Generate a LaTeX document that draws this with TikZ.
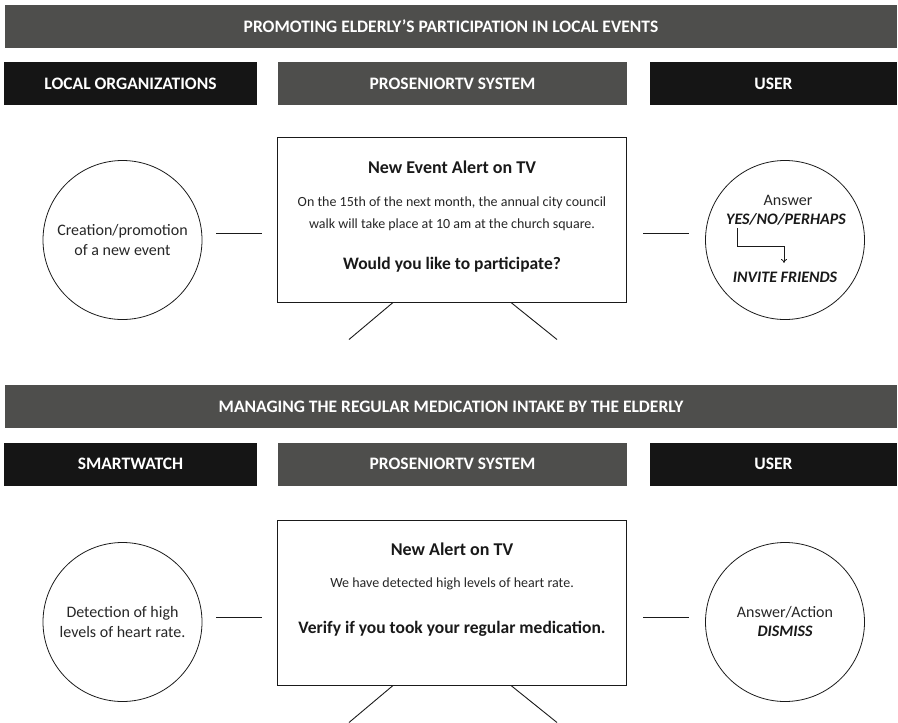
\documentclass[tikz,border=0pt]{standalone}
\usepackage{fontspec}
\setmainfont{Carlito}
\usetikzlibrary{arrows.meta}
\definecolor{bannergray}{HTML}{4E4E4C}
\definecolor{darkbox}{HTML}{151515}
\definecolor{linegray}{HTML}{1A1A1A}
\begin{document}
\begin{tikzpicture}[x=1pt,y=-1pt,
  banner/.style={fill=bannergray, text=white, font=\bfseries\fontsize{17.5}{20}\selectfont, minimum width=892pt, minimum height=43pt, inner sep=0pt},
  hdark/.style={fill=darkbox, text=white, font=\bfseries\fontsize{17.5}{20}\selectfont, minimum height=43pt, inner sep=0pt},
  hmid/.style={fill=bannergray, text=white, font=\bfseries\fontsize{17.5}{20}\selectfont, minimum height=43pt, inner sep=0pt},
  tvbox/.style={draw=linegray, line width=1pt, minimum width=349pt, minimum height=165pt, inner sep=0pt},
  tvtitle/.style={font=\bfseries\fontsize{18}{21}\selectfont, text=black!90, inner sep=0pt},
  tvbody/.style={font=\fontsize{14}{22}\selectfont, text=black!85, align=center, inner sep=0pt},
  tvbold/.style={font=\bfseries\fontsize{17.5}{21}\selectfont, text=black!90, inner sep=0pt},
  circ/.style={draw=linegray, line width=0.8pt, circle, minimum size=159pt, inner sep=0pt, align=center, font=\fontsize{16}{19.5}\selectfont, text=black!85},
  ctext/.style={font=\fontsize{16}{19}\selectfont, text=black!85, inner sep=0pt},
  cbold/.style={font=\bfseries\itshape\fontsize{16}{19}\selectfont, text=black!90, inner sep=0pt},
  conn/.style={draw=linegray, line width=1pt},
  leg/.style={draw=linegray, line width=0.9pt}
]
\useasboundingbox (0,0) rectangle (898,723);

% ---------- Section 1 ----------
\node[banner] (b1) at (451,26.5) {PROMOTING ELDERLY’S PARTICIPATION IN LOCAL EVENTS};
\node[hdark, minimum width=253pt] (lo) at (130.5,83.5) {LOCAL ORGANIZATIONS};
\node[hmid, minimum width=349pt] (ps1) at (452.5,83.5) {PROSENIORTV SYSTEM};
\node[hdark, minimum width=247pt] (u1) at (773.5,83.5) {USER};

\node[tvbox] (tv1) at (452,219.5) {};
\node[tvtitle] (t1) at (452,167) {New Event Alert on TV};
\node[tvbody] (bd1) at (452,214) {On the 15th of the next month, the annual city council\\walk will take place at 10 am at the church square.};
\node[tvbold] (q1) at (452,265) {Would you like to participate?};
\draw[leg] (tv1.south) ++(-59,0) -- ++(-44,37);
\draw[leg] (tv1.south) ++(59,0) -- ++(46,37);

\node[circ] (c1) at (122.5,240) {Creation/promotion\\of a new event};
\node[circ] (c2) at (785,240) {};
\node[ctext] (ans1) at (788,200) {Answer};
\node[cbold] (yes) at (786,219) {YES/NO/PERHAPS};
\node[cbold] (inv) at (785,277) {INVITE FRIENDS};
\coordinate (ya) at (737,228);
\coordinate (yb) at (784,263);
\draw[line width=0.8pt, draw=linegray, -{To[length=4pt,width=6pt]}] (ya) |- ++(47,18) -- (yb);

\coordinate (l1a) at (216,233);
\coordinate (l1b) at (262,233);
\draw[conn] (l1a) -- (l1b);
\coordinate (r1a) at (643,233);
\coordinate (r1b) at (689,233);
\draw[conn] (r1a) -- (r1b);

% ---------- Section 2 ----------
\node[banner] (b2) at (451,406.5) {MANAGING THE REGULAR MEDICATION INTAKE BY THE ELDERLY};
\node[hdark, minimum width=253pt] (sw) at (130.5,464) {SMARTWATCH};
\node[hmid, minimum width=349pt] (ps2) at (452.5,464) {PROSENIORTV SYSTEM};
\node[hdark, minimum width=247pt] (u2) at (773.5,464) {USER};

\node[tvbox] (tv2) at (452,602.5) {};
\node[tvtitle] (t2) at (452,549) {New Alert on TV};
\node[tvbody] (bd2) at (452,584) {We have detected high levels of heart rate.};
\node[tvbold] (q2) at (452,629) {Verify if you took your regular medication.};
\draw[leg] (tv2.south) ++(-59,0) -- ++(-44,37);
\draw[leg] (tv2.south) ++(59,0) -- ++(46,37);

\node[circ] (c3) at (122.5,622) {Detection of high\\levels of heart rate.};
\node[circ] (c4) at (785,622) {};
\node[ctext] (ans2) at (785,612) {Answer/Action};
\node[cbold] (dis) at (785,631) {DISMISS};

\coordinate (l2a) at (216,617);
\coordinate (l2b) at (262,617);
\draw[conn] (l2a) -- (l2b);
\coordinate (r2a) at (643,617);
\coordinate (r2b) at (689,617);
\draw[conn] (r2a) -- (r2b);
\end{tikzpicture}
\end{document}
